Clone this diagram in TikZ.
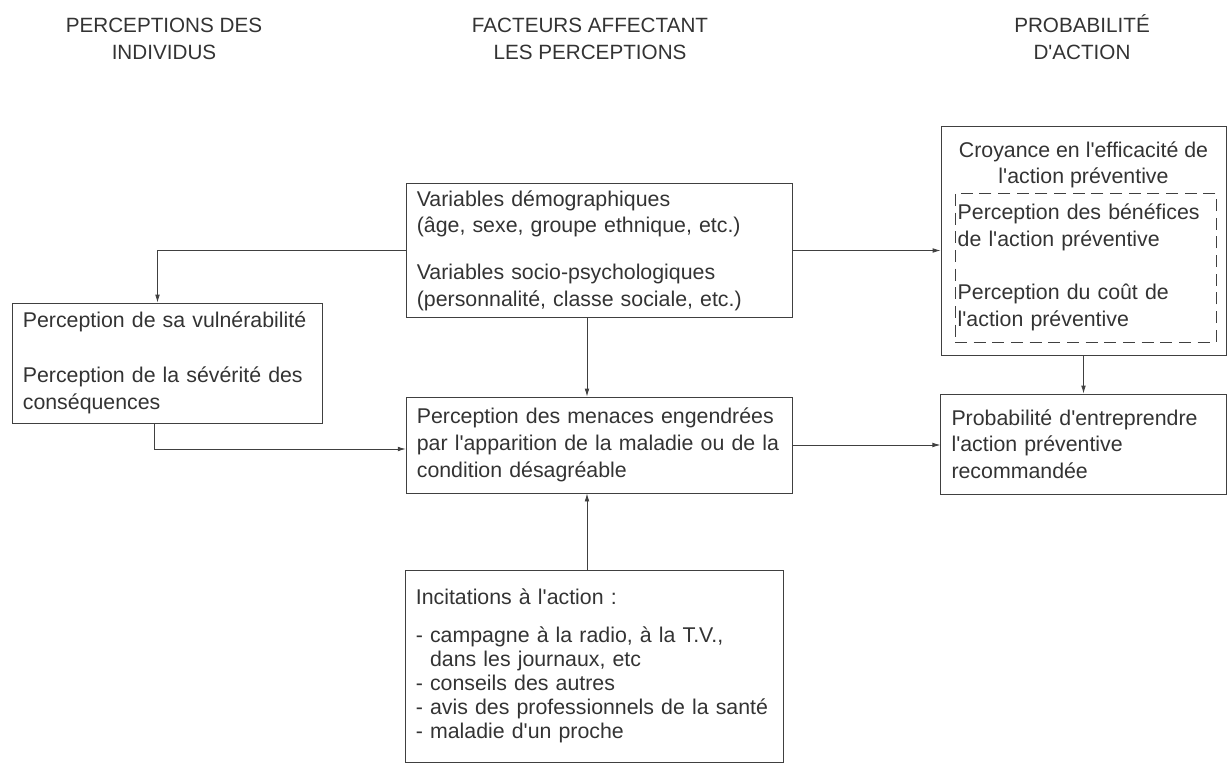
\documentclass[tikz,border=0pt]{standalone}
\usepackage{fontspec}
\setmainfont{Liberation Sans}
\usetikzlibrary{arrows.meta,calc}
\newcommand{\apo}{\textquotesingle}

\begin{document}
\begin{tikzpicture}[
    x=0.75pt, y=-0.75pt,
    titre/.style={align=center, text=black!80, font=\fontsize{15.5}{20}\selectfont},
    box/.style={draw=black!75, line width=0.6pt, align=left, inner xsep=8pt,
                text=black!80, font=\fontsize{16}{20}\selectfont},
    pointille/.style={draw=black!75, line width=0.6pt, dash pattern=on 9pt off 5pt,
                align=left, inner xsep=2pt, text=black!80, font=\fontsize{16}{20}\selectfont},
    fleche/.style={-{Latex[length=6pt,width=3.5pt]}, draw=black!75, line width=0.6pt}
  ]
    \useasboundingbox (0,0) rectangle (1227,763);

    % titres des colonnes
    \node[titre] (t1) at (164,39) {PERCEPTIONS DES\\INDIVIDUS};
    \node[titre] (t2) at (590,39) {FACTEURS AFFECTANT\\LES PERCEPTIONS};
    \node[titre] (t3) at (1082,37) {PROBABILIT\'E\\D\apo ACTION};

    \node[box, text width=217pt, minimum height=90pt] (vuln) at (167.5,363)
      {Perception de sa vuln\'erabilit\'e\\[21pt]
       Perception de la s\'ev\'erit\'e des\\cons\'equences};
    \node[box, text width=274pt, minimum height=101pt] (demog) at (599.5,250.5)
      {Variables d\'emographiques\\(\^age, sexe, groupe ethnique, etc.)\\[15pt]
       Variables socio-psychologiques\\(personnalit\'e, classe sociale, etc.)};
    \node[box, text width=274pt, minimum height=72pt] (menace) at (599.5,445)
      {Perception des menaces engendr\'ees\\par l\apo apparition de la maladie ou de la\\condition d\'esagr\'eable};
    \node[box, text width=268pt, minimum height=144pt,
          font=\fontsize{16}{18}\selectfont] (incit) at (594.5,666)
      {Incitations \`a l\apo action :\\[10pt]
       -~campagne \`a la radio, \`a la T.V.,\\
       \phantom{-~}dans les journaux, etc\\
       -~conseils des autres\\
       -~avis des professionnels de la sant\'e\\
       -~maladie d\apo un proche};

    \node[box, minimum width=213.75pt, minimum height=171.75pt] (effic) at (1083.5,240.5) {};
    \node[align=center, text=black!80, font=\fontsize{16}{20}\selectfont] (croy) at (1083.5,165)
      {Croyance en l\apo efficacit\'e de\\l\apo action pr\'eventive};
    \node[pointille, text width=191.75pt, minimum height=111.75pt] (benef) at (1085.5,267.5)
      {Perception des b\'en\'efices\\de l\apo action pr\'eventive\\[20pt]
       Perception du co\^ut de\\l\apo action pr\'eventive};
    \node[box, text width=198pt, minimum height=75pt] (prob) at (1083.5,444)
      {Probabilit\'e d\apo entreprendre\\l\apo action pr\'eventive\\recommand\'ee};

    \draw[fleche] (demog.west) -| ($(vuln.north)+(-10,0)$);
    \draw[fleche] ($(vuln.south)+(-13,0)$) |- ($(menace.west)+(0,4)$);
    \draw[fleche] ($(demog.south)+(-12.5,0)$) -- ($(menace.north)+(-12.5,0)$);
    \draw[fleche] ($(incit.north)+(-7.5,0)$) -- ($(menace.south)+(-12.5,0)$);
    \draw[fleche] (demog.east) -- (demog.east -| effic.west);
    \draw[fleche] (menace.east) -- (menace.east -| prob.west);
    \draw[fleche] (effic.south) -- (prob.north);
  \end{tikzpicture}
\end{document}
